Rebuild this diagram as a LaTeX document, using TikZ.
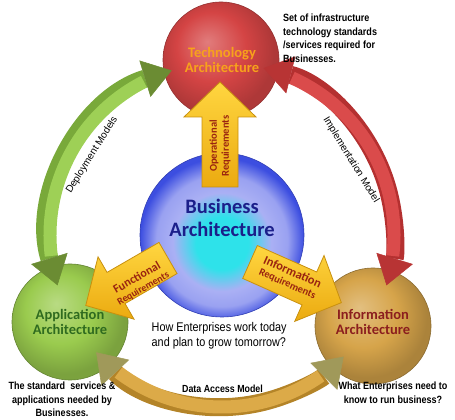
\documentclass[tikz,border=0pt]{standalone}
\usepackage{fontspec}
\setmainfont{Carlito}
\newfontfamily\notefont[FakeStretch=0.86]{Liberation Sans}
\newfontfamily\arcfont{Liberation Sans}
\usetikzlibrary{arrows.meta}

\definecolor{techred}{HTML}{D44444}
\definecolor{appgreen}{HTML}{9ACB4E}
\definecolor{infogold}{HTML}{D6A44A}
\definecolor{bizcyan}{HTML}{2EE2EA}
\definecolor{bizlav}{HTML}{AAB0F4}
\definecolor{bizblue}{HTML}{3C4EE0}
\definecolor{greenedge}{HTML}{79A93A}
\definecolor{greenlight}{HTML}{9ED056}
\definecolor{greentip}{HTML}{6B8C33}
\definecolor{rededge}{HTML}{B43030}
\definecolor{redlight}{HTML}{DA4B4B}
\definecolor{redtip}{HTML}{B83434}
\definecolor{goldedge}{HTML}{B48428}
\definecolor{goldlight}{HTML}{DCAA48}
\definecolor{goldtip}{HTML}{A0995A}
\definecolor{reqlight}{HTML}{FFD640}
\definecolor{reqdark}{HTML}{EBAA10}
\definecolor{reqedge}{HTML}{C8900F}
\definecolor{reqtext}{HTML}{9A2410}
\definecolor{techtext}{HTML}{F7A21B}
\definecolor{apptext}{HTML}{2F6B1F}
\definecolor{infotext}{HTML}{8B1E1E}
\definecolor{biztext}{HTML}{1B1F8A}

\pgfdeclareradialshading{techball}{\pgfpoint{-6bp}{8bp}}{%
  color(0bp)=(techred!70!white); color(15bp)=(techred); color(26bp)=(techred!82!black); color(50bp)=(techred!82!black)}
\pgfdeclareradialshading{appball}{\pgfpoint{-6bp}{8bp}}{%
  color(0bp)=(appgreen!70!white); color(15bp)=(appgreen); color(26bp)=(appgreen!80!black); color(50bp)=(appgreen!80!black)}
\pgfdeclareradialshading{infoball}{\pgfpoint{-6bp}{8bp}}{%
  color(0bp)=(infogold!70!white); color(15bp)=(infogold); color(26bp)=(infogold!80!black); color(50bp)=(infogold!80!black)}
\pgfdeclareradialshading{bizball}{\pgfpoint{0bp}{-3bp}}{%
  color(0bp)=(bizcyan); color(8bp)=(bizcyan); color(15bp)=(bizlav); color(20bp)=(bizlav!85!bizblue); color(25bp)=(bizblue); color(50bp)=(bizblue)}

\begin{document}
\begin{tikzpicture}[x=1pt, y=1pt,
    archball/.style={circle, shade, inner sep=0pt, minimum size=116pt, line width=0.6pt},
    archname/.style={font=\bfseries\fontsize{14.5}{15.5}\selectfont, align=center, inner sep=0pt},
    ringarc/.style 2 args={line width=18pt, draw=#1,
      arrows={Triangle[length=28pt, width=38pt, line width=0.5pt, color=#2]-Triangle[length=28pt, width=38pt, line width=0.5pt, color=#2]}},
    ringshine/.style={line width=13pt, draw=#1},
    reqarrow/.style={draw=reqedge, line width=0.8pt, top color=reqlight, bottom color=reqdark},
    reqname/.style={text=reqtext, font=\bfseries, align=center, inner sep=0pt},
    note/.style={font=\notefont\bfseries\fontsize{10.5}{13.5}\selectfont, inner sep=0pt},
    arcname/.style={font=\arcfont\fontsize{10}{12}\selectfont, inner sep=0pt}]

  \useasboundingbox (0,0) rectangle (455,420);
  \coordinate (ring) at (222,185);

  % the four architecture circles
  \node[archball, shading=techball, draw=techred!70!black] (tech) at (221,360) {};
  \node[archball, shading=appball, draw=appgreen!65!black] (app) at (70,98) {};
  \node[archball, shading=infoball, draw=infogold!65!black] (info) at (373,94) {};
  \node[archball, shading=bizball, draw=bizblue!80!black, minimum size=164pt] (biz) at (222,185) {};

  % ring arcs between the outer circles
  \coordinate (deployS) at ([shift={(197:172)}]ring);
  \coordinate (implS) at ([shift={(76:172)}]ring);
  \coordinate (accessS) at ([shift={(223:172)}]ring);
  \draw[ringarc={greenedge}{greentip}] (deployS) arc[start angle=197, end angle=107, radius=172];
  \draw[ringshine=greenlight] ([shift={(187:172)}]ring) arc[start angle=187, end angle=117, radius=172];
  \draw[ringarc={rededge}{redtip}] (implS) arc[start angle=76, end angle=-17, radius=172];
  \draw[ringshine=redlight] ([shift={(66:172)}]ring) arc[start angle=66, end angle=-7, radius=172];
  \draw[ringarc={goldedge}{goldtip}] (accessS) arc[start angle=223, end angle=315, radius=172];
  \draw[ringshine=goldlight] ([shift={(233:172)}]ring) arc[start angle=233, end angle=305, radius=172];

  % requirement arrows out of the business circle
  \draw[reqarrow, shift={(220,233)}, rotate=90] (0,-18) -- (70,-18) -- (70,-36) -- (105,0) -- (70,36) -- (70,18) -- (0,18) -- cycle;
  \draw[reqarrow, shift={(168,162)}, rotate=210] (0,-18) -- (60,-18) -- (60,-36) -- (95,0) -- (60,36) -- (60,18) -- (0,18) -- cycle;
  \draw[reqarrow, shift={(250,158)}, rotate=-24] (0,-18) -- (65,-18) -- (65,-36) -- (100,0) -- (65,36) -- (65,18) -- (0,18) -- cycle;

  \node[reqname, rotate=90] (optext) at (220,274) {\fontsize{10.5}{13.5}\selectfont Operational\\\fontsize{10.5}{13.5}\selectfont Requirements};
  \node[reqname, rotate=30] (functext) at (140,137) {\fontsize{12}{16}\selectfont Functional\\\fontsize{10}{16}\selectfont Requirements};
  \node[reqname, rotate=-24] (infotext) at (290,142) {\fontsize{12.5}{16}\selectfont Information\\\fontsize{10.5}{16}\selectfont Requirements};

  % circle titles
  \node[archname, text=techtext] (techname) at (222,360) {Technology\\Architecture};
  \node[archname, text=apptext] (appname) at (70,98) {Application\\Architecture};
  \node[archname, text=infotext] (infoname) at (373,98) {Information\\Architecture};
  \node[archname, text=biztext, font=\bfseries\fontsize{20.5}{23.4}\selectfont] (bizname) at (222,202) {Business\\Architecture};

  % arc labels
  \node[arcname, rotate=58] (deploylabel) at (92,265) {Deployment Models};
  \node[arcname, rotate=-58.5] (impllabel) at (351,260) {Implementation Model};
  \node[note, font=\notefont\bfseries\fontsize{10.3}{12}\selectfont] (accesslabel) at (222.5,31) {Data Access Model};

  % notes
  \node[note, anchor=north west, align=left] (technote) at (283,406) {Set of infrastructure\\technology standards\\/services required for\\Businesses.};
  \node[note, anchor=north, align=center, font=\notefont\bfseries\fontsize{10.5}{13.3}\selectfont] (appnote) at (62,38) {The standard~ services \&\\applications needed by\\Businesses.};
  \node[note, anchor=north, align=center, font=\notefont\bfseries\fontsize{10.5}{13.7}\selectfont] (infonote) at (393,38.5) {What Enterprises need to\\know to run business?};
  \node[anchor=north west, align=left, inner sep=0pt, font=\notefont\fontsize{12.6}{15.6}\selectfont] (biznote) at (151.5,98) {How Enterprises work today\\and plan to grow tomorrow?};
\end{tikzpicture}
\end{document}
